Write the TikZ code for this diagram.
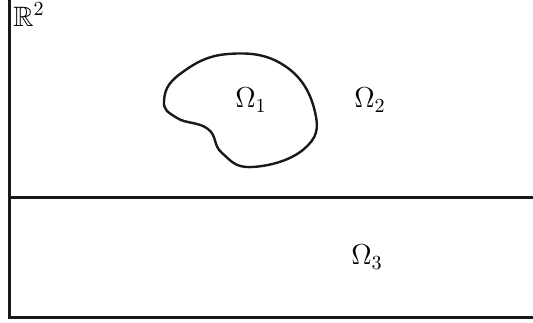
\documentclass[tikz,border=0pt]{standalone}
\usepackage{amssymb}
\usepackage{tikz}
\usetikzlibrary{positioning}

\begin{document}
\begin{tikzpicture}[
    x=0.5pt, y=-0.5pt,
    every node/.style={font=\fontsize{14}{16}\selectfont, inner sep=0pt},
    border/.style={line width=1.3pt, black!90},
    boundary/.style={line width=1.2pt, black!90, line join=round}
]
\useasboundingbox (0,0) rectangle (533,322);

% domain frame and interface
\draw[border] (9.5,0) -- (9.5,317.5) -- (533,317.5);
\draw[line width=1.1pt, black!90] (9.5,197.5) -- (533,197.5);

% inclusion
\draw[boundary] plot[smooth cycle, tension=0.75] coordinates {
    (164,101) (180,74) (228,54) (285,66) (315,112) (304,149)
    (252,167) (222,153) (208,129) (177,118)};

\node[anchor=base west] (plane) at (13,26) {$\mathbb{R}^2$};
\node (om1) at (251,100) {$\Omega_1$};
\node (om2) at (370,100) {$\Omega_2$};
\node (om3) at (367,257) {$\Omega_3$};
\end{tikzpicture}
\end{document}
